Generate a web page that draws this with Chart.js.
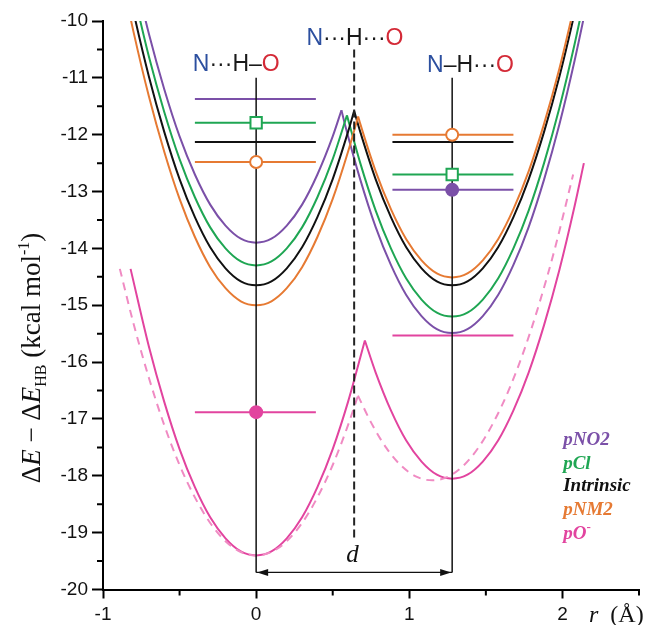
<!DOCTYPE html>
<html>
<head>
<meta charset="utf-8">
<script src="https://cdn.jsdelivr.net/npm/chart.js@4.4.1/dist/chart.umd.min.js"></script>
<style>
  html, body { margin: 0; padding: 0; background: #fff; overflow: hidden; }
  #box { position: relative; width: 649px; height: 625px; }
</style>
</head>
<body>
<div id="box"><canvas id="pes"></canvas></div>
<script>
// proton transfer double wells, r in Å, energy in kcal/mol
const series = ['pNO2', 'pCl', 'Intrinsic', 'pNM2', 'pO⁻'];
const colors = ['#7b50a8', '#1fa653', '#111111', '#e67a33', '#e2449f'];
const dashedPink = '#f08bc3';

const rTicks = [-1, 0, 1, 2];
const eTicks = [-20, -19, -18, -17, -16, -15, -14, -13, -12, -11, -10];

// each curve is two branches meeting at the cusp, points are [r, E]
const nitroLeft = [[-0.8,-9.10],[-0.7,-10.23],[-0.6,-11.20],[-0.5,-12.03],[-0.4,-12.70],[-0.3,-13.23],[-0.2,-13.60],[-0.1,-13.83],[0,-13.90],[0.1,-13.83],[0.2,-13.60],[0.3,-13.23],[0.4,-12.70],[0.5,-12.03],[0.557,-11.57]];
const nitroRight = [[0.557,-11.57],[0.58,-11.82],[0.68,-12.79],[0.78,-13.62],[0.88,-14.29],[0.98,-14.82],[1.08,-15.19],[1.18,-15.42],[1.28,-15.49],[1.38,-15.42],[1.48,-15.19],[1.58,-14.82],[1.68,-14.29],[1.78,-13.62],[1.88,-12.79],[1.98,-11.82],[2.08,-10.69],[2.18,-9.42]];

const chloroLeft = [[-0.8,-9.50],[-0.7,-10.63],[-0.6,-11.60],[-0.5,-12.43],[-0.4,-13.10],[-0.3,-13.63],[-0.2,-14.00],[-0.1,-14.23],[0,-14.30],[0.1,-14.23],[0.2,-14.00],[0.3,-13.63],[0.4,-13.10],[0.5,-12.43],[0.593,-11.66]];
const chloroRight = [[0.593,-11.66],[0.68,-12.50],[0.78,-13.33],[0.88,-14.00],[0.98,-14.53],[1.08,-14.90],[1.18,-15.13],[1.28,-15.20],[1.38,-15.13],[1.48,-14.90],[1.58,-14.53],[1.68,-14.00],[1.78,-13.33],[1.88,-12.50],[1.98,-11.53],[2.08,-10.40],[2.18,-9.13]];

const intrinsicLeft = [[-0.9,-8.58],[-0.8,-9.85],[-0.7,-10.98],[-0.6,-11.95],[-0.5,-12.78],[-0.4,-13.45],[-0.3,-13.98],[-0.2,-14.35],[-0.1,-14.58],[0,-14.65],[0.1,-14.58],[0.2,-14.35],[0.3,-13.98],[0.4,-13.45],[0.5,-12.78],[0.6,-11.95],[0.64,-11.58]];
const intrinsicRight = [[0.64,-11.58],[0.68,-11.95],[0.78,-12.78],[0.88,-13.45],[0.98,-13.98],[1.08,-14.35],[1.18,-14.58],[1.28,-14.65],[1.38,-14.58],[1.48,-14.35],[1.58,-13.98],[1.68,-13.45],[1.78,-12.78],[1.88,-11.95],[1.98,-10.98],[2.08,-9.85],[2.18,-8.58]];

const aminoLeft = [[-0.9,-8.93],[-0.8,-10.20],[-0.7,-11.33],[-0.6,-12.30],[-0.5,-13.13],[-0.4,-13.80],[-0.3,-14.33],[-0.2,-14.70],[-0.1,-14.93],[0,-15.00],[0.1,-14.93],[0.2,-14.70],[0.3,-14.33],[0.4,-13.80],[0.5,-13.13],[0.6,-12.30],[0.666,-11.68]];
const aminoRight = [[0.666,-11.68],[0.68,-11.81],[0.78,-12.64],[0.88,-13.31],[0.98,-13.84],[1.08,-14.21],[1.18,-14.44],[1.28,-14.51],[1.38,-14.44],[1.48,-14.21],[1.58,-13.84],[1.68,-13.31],[1.78,-12.64],[1.88,-11.81],[1.98,-10.84],[2.08,-9.71]];

const oxideLeft = [[-0.82,-14.36],[-0.7,-15.73],[-0.6,-16.70],[-0.5,-17.53],[-0.4,-18.20],[-0.3,-18.73],[-0.2,-19.10],[-0.1,-19.33],[0,-19.40],[0.1,-19.33],[0.2,-19.10],[0.3,-18.73],[0.4,-18.20],[0.5,-17.53],[0.6,-16.70],[0.71,-15.62]];
const oxideRight = [[0.71,-15.62],[0.78,-16.18],[0.88,-16.85],[0.98,-17.38],[1.08,-17.75],[1.18,-17.98],[1.28,-18.05],[1.38,-17.98],[1.48,-17.75],[1.58,-17.38],[1.68,-16.85],[1.78,-16.18],[1.88,-15.35],[1.98,-14.38],[2.08,-13.25],[2.14,-12.50]];

// dashed pO- profile
const oxideAltLeft = [[-0.89,-14.36],[-0.8,-15.33],[-0.7,-16.28],[-0.6,-17.11],[-0.5,-17.81],[-0.4,-18.38],[-0.3,-18.83],[-0.2,-19.15],[-0.1,-19.34],[0,-19.40],[0.1,-19.34],[0.2,-19.15],[0.3,-18.83],[0.4,-18.38],[0.5,-17.81],[0.6,-17.11],[0.665,-16.59]];
const oxideAltRight = [[0.665,-16.59],[0.75,-17.06],[0.85,-17.51],[0.95,-17.83],[1.05,-18.02],[1.15,-18.08],[1.25,-18.02],[1.35,-17.83],[1.45,-17.51],[1.55,-17.06],[1.65,-16.49],[1.75,-15.79],[1.85,-14.96],[1.95,-14.01],[2.07,-12.70]];

// levels in each well, same order as series
const levelsLeft = [-11.37, -11.79, -12.13, -12.48, -16.88];
const levelsRight = [-12.97, -12.70, -12.13, -12.00, -15.53];
const markLeft = ['pCl', 'pNM2', 'pO⁻'];
const markRight = ['pNO2', 'pCl', 'pNM2'];

const wellR = [0, 1.28];
const barrierR = 0.64;

const curve = (pts, color, dash) => ({
  data: pts.map(([x, y]) => ({ x, y })),
  showLine: true, borderColor: color, borderWidth: 2, borderDash: dash || [],
  pointRadius: 0, cubicInterpolationMode: 'monotone', order: 4
});
const seg = (x0, x1, y0, y1, color, width, dash, order) => ({
  data: [{ x: x0, y: y0 }, { x: x1, y: y1 }],
  showLine: true, borderColor: color, borderWidth: width, borderDash: dash || [],
  pointRadius: 0, order
});
const markerStyle = { pNO2: ['circle', true], pCl: ['rect', false], pNM2: ['circle', false], 'pO⁻': ['circle', true] };
function marker(name, r, e) {
  const i = series.indexOf(name);
  const [shape, filled] = markerStyle[name];
  return {
    data: [{ x: r, y: e }], showLine: false, order: 0,
    pointStyle: shape, pointRadius: shape === 'rect' ? 8 : 6, pointBorderWidth: 2,
    pointBorderColor: colors[i], pointBackgroundColor: filled ? colors[i] : '#fff'
  };
}

const datasets = [
  curve(oxideAltLeft, dashedPink, [8, 6]), curve(oxideAltRight, dashedPink, [8, 6]),
  curve(oxideLeft, colors[4]), curve(oxideRight, colors[4]),
  curve(aminoLeft, colors[3]), curve(aminoRight, colors[3]),
  curve(intrinsicLeft, colors[2]), curve(intrinsicRight, colors[2]),
  curve(chloroLeft, colors[1]), curve(chloroRight, colors[1]),
  curve(nitroLeft, colors[0]), curve(nitroRight, colors[0])
];
series.forEach((s, i) => {
  datasets.push(seg(-0.4, 0.39, levelsLeft[i], levelsLeft[i], colors[i], 2, null, 3));
  datasets.push(seg(0.89, 1.68, levelsRight[i], levelsRight[i], colors[i], 2, null, 3));
});
wellR.forEach(r => datasets.push(seg(r, r, -11, -19.7, '#111', 1.5, null, 1)));
datasets.push(seg(barrierR, barrierR, -10.5, -19.1, '#222', 2, [8, 4], 1));
datasets.push(seg(wellR[0], wellR[1], -19.7, -19.7, '#111', 1.3, null, 1));
markLeft.forEach(s => datasets.push(marker(s, wellR[0], levelsLeft[series.indexOf(s)])));
markRight.forEach(s => datasets.push(marker(s, wellR[1], levelsRight[series.indexOf(s)])));

const SANS = 'Liberation Sans, Arial, sans-serif';
const SERIF = 'Liberation Serif, Times New Roman, serif';

// text pieces drawn one after another: [text, font, color, dy]
function runs(ctx, parts, x, y, align) {
  let w = 0;
  parts.forEach(p => { ctx.font = p[1]; w += ctx.measureText(p[0]).width; });
  let cx = align === 'left' ? x : x - w / 2;
  parts.forEach(p => {
    ctx.font = p[1];
    ctx.fillStyle = p[2];
    ctx.fillText(p[0], cx, y + (p[3] || 0));
    cx += ctx.measureText(p[0]).width;
  });
}

const overlay = {
  id: 'overlay',
  afterDatasetsDraw(chart) {
    const { ctx, chartArea: a, scales: { x, y } } = chart;
    const px = v => x.getPixelForValue(v);
    const py = v => y.getPixelForValue(v);
    ctx.save();

    // minor ticks
    ctx.strokeStyle = '#000';
    ctx.lineWidth = 2;
    ctx.beginPath();
    for (let v = -19.5; v < -10; v += 1) { ctx.moveTo(a.left - 6, py(v)); ctx.lineTo(a.left, py(v)); }
    [-0.5, 0.5, 1.5, 2.5].forEach(v => { ctx.moveTo(px(v), a.bottom); ctx.lineTo(px(v), a.bottom + 6); });
    ctx.stroke();

    // arrow heads on d
    ctx.fillStyle = '#111';
    const ay = py(-19.7), l = px(wellR[0]) + 1, r = px(wellR[1]) - 1;
    ctx.beginPath();
    ctx.moveTo(l, ay); ctx.lineTo(l + 11, ay - 3.5); ctx.lineTo(l + 11, ay + 3.5); ctx.closePath();
    ctx.moveTo(r, ay); ctx.lineTo(r - 11, ay - 3.5); ctx.lineTo(r - 11, ay + 3.5); ctx.closePath();
    ctx.fill();

    ctx.textBaseline = 'alphabetic';
    ctx.font = 'italic 25px ' + SERIF;
    ctx.textAlign = 'center';
    ctx.fillStyle = '#111';
    ctx.fillText('d', px(0.63), py(-19.52));
    ctx.textAlign = 'left';

    // structures above the wells
    const blue = '#2c4f9f', red = '#d42a37', dark = '#1a1a1a';
    const f = '23px ' + SANS;
    runs(ctx, [['N', f, blue], ['···', f, dark], ['H', f, dark], ['–', f, dark], ['O', f, red]], px(-0.13), py(-10.88));
    runs(ctx, [['N', f, blue], ['···', f, dark], ['H', f, dark], ['···', f, dark], ['O', f, red]], px(0.645), py(-10.42));
    runs(ctx, [['N', f, blue], ['–', f, dark], ['H', f, dark], ['···', f, dark], ['O', f, red]], px(1.4), py(-10.9));

    // legend
    const lf = 'italic bold 19px ' + SERIF;
    const legendE = [-17.37, -17.79, -18.18, -18.6, -19.02];
    ctx.textBaseline = 'middle';
    series.forEach((s, i) => {
      if (s === 'pO⁻') {
        runs(ctx, [['pO', lf, colors[i]], ['-', 'bold 13px ' + SERIF, colors[i], -6]], px(2.005), py(legendE[i]), 'left');
      } else {
        runs(ctx, [[s, lf, colors[i]]], px(2.005), py(legendE[i]), 'left');
      }
    });

    // axis titles
    ctx.textBaseline = 'alphabetic';
    runs(ctx, [['r', 'italic 24px ' + SERIF, '#111'], ['  (Å)', '24px ' + SERIF, '#111']], 589, 622, 'left');

    ctx.translate(40, 358);
    ctx.rotate(-Math.PI / 2);
    const tf = '27px ' + SERIF, ti = 'italic 27px ' + SERIF, sf = '16px ' + SERIF;
    runs(ctx, [['Δ', tf, '#111'], ['E', ti, '#111'], [' − Δ', tf, '#111'], ['E', ti, '#111'],
      ['HB', sf, '#111', 6], [' (kcal mol', tf, '#111'], ['-1', sf, '#111', -11], [')', tf, '#111']], 0, 0);
    ctx.restore();
  }
};

new Chart(document.getElementById('pes'), {
  type: 'scatter',
  data: { datasets },
  plugins: [overlay],
  options: {
    responsive: true,
    maintainAspectRatio: false,
    animation: false,
    layout: { padding: { top: 21, right: 3, left: 0, bottom: 0 } },
    plugins: { legend: { display: false }, tooltip: { enabled: false } },
    scales: {
      x: {
        type: 'linear', min: -1, max: 2.5,
        afterBuildTicks: s => { s.ticks = rTicks.map(v => ({ value: v })); },
        afterFit: s => { s.height = 35.5; },
        border: { display: true, color: '#000', width: 2 },
        grid: { drawOnChartArea: false, drawTicks: true, tickLength: 9, tickWidth: 2, tickColor: '#000' },
        ticks: { autoSkip: false, maxRotation: 0, padding: 5, color: '#111', font: { family: SANS, size: 19 } }
      },
      y: {
        type: 'linear', min: -20, max: -10,
        afterBuildTicks: s => { s.ticks = eTicks.map(v => ({ value: v })); },
        afterFit: s => { s.width = 103; },
        border: { display: true, color: '#000', width: 2 },
        grid: { drawOnChartArea: false, drawTicks: true, tickLength: 11, tickWidth: 2, tickColor: '#000' },
        ticks: { autoSkip: false, padding: 4, color: '#111', font: { family: SANS, size: 19 } }
      }
    }
  }
});
</script>
</body>
</html>
